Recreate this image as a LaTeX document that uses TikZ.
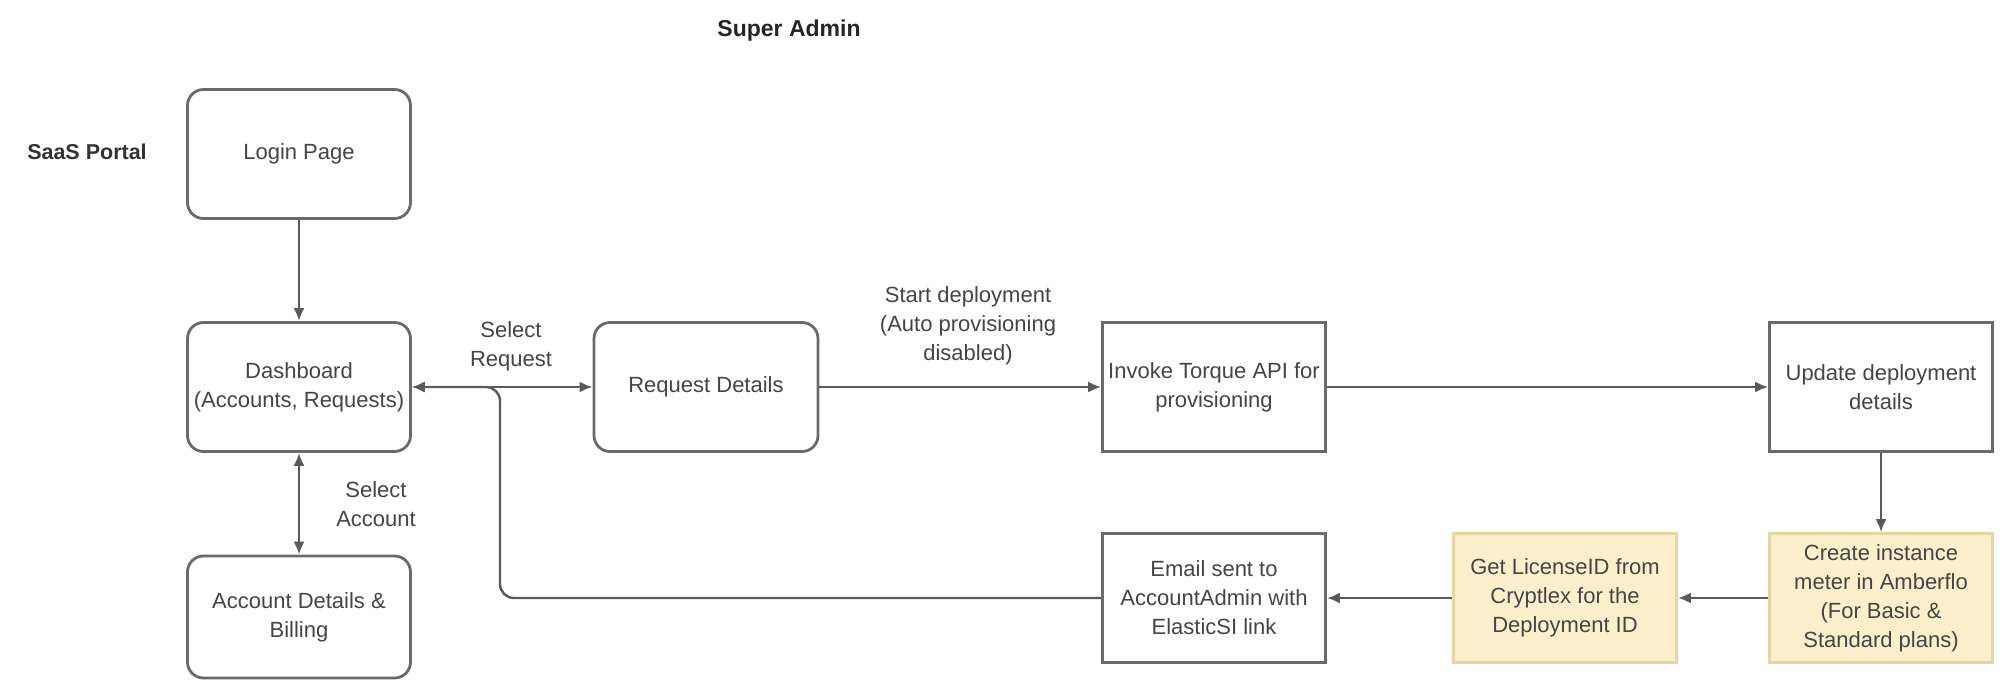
\documentclass[tikz,border=0pt]{standalone}
\usepackage{fontspec}
\setmainfont{Liberation Sans}
\usetikzlibrary{arrows.meta}
\definecolor{boxline}{HTML}{6A6A6A}
\definecolor{conn}{HTML}{5A5A5A}
\definecolor{txt}{HTML}{454545}
\definecolor{yelfill}{HTML}{FCF0CC}
\definecolor{yelline}{HTML}{E6D6A6}
\tikzset{
  basebox/.style={draw=boxline, line width=2.8pt, minimum width=223pt, minimum height=129pt, inner sep=2pt, align=center, text=txt, font=\fontsize{22}{29}\selectfont},
  roundbox/.style={basebox, rounded corners=16pt},
  rectbox/.style={basebox},
  yelbox/.style={basebox, fill=yelfill, draw=yelline},
  lbl/.style={align=center, text=txt, font=\fontsize{22}{29}\selectfont, inner sep=0pt},
  conarrow/.style={draw=conn, line width=2.4pt, -{Latex[length=13pt,width=11pt]}},
  conboth/.style={draw=conn, line width=2.4pt, {Latex[length=13pt,width=11pt]}-{Latex[length=13pt,width=11pt]}}
}
\begin{document}
\begin{tikzpicture}[x=1pt,y=-1pt]
\useasboundingbox[fill=white] (0,0) rectangle (2008,680);
% titles
\node[lbl, font=\bfseries\fontsize{23}{28}\selectfont, text=black!85] (super) at (789,31) {Super Admin};
\node[lbl, font=\bfseries\fontsize{21.5}{28}\selectfont, text=black!80] (saas) at (87,152) {SaaS Portal};
% boxes
\node[roundbox] (login) at (299,154) {Login Page};
\node[roundbox] (dash) at (299,387) {Dashboard\\(Accounts, Requests)};
\node[roundbox, minimum height=122pt] (acct) at (299,617) {Account Details \&\\Billing};
\node[roundbox, minimum width=224pt] (req) at (706,387) {Request Details};
\node[rectbox] (invoke) at (1214,387) {Invoke Torque API for\\provisioning};
\node[rectbox] (update) at (1881,387) {Update deployment\\details};
\node[yelbox] (create) at (1881,598) {Create instance\\meter in Amberflo\\(For Basic \&\\Standard plans)};
\node[yelbox] (license) at (1565,598) {Get LicenseID from\\Cryptlex for the\\Deployment ID};
\node[rectbox] (email) at (1214,598) {Email sent to\\AccountAdmin with\\ElasticSI link};
% labels
\node[lbl] (selreq) at (511,346) {Select\\Request};
\node[lbl] (selacc) at (376,504) {Select\\Account};
\node[lbl] (startdep) at (968,326) {Start deployment\\(Auto provisioning\\disabled)};
% connectors
\coordinate (retb) at (500,598);
\coordinate (rett) at (500,387);
\draw[conarrow] (login) -- (dash);
\draw[conboth] (dash) -- (acct);
\draw[conboth] (dash) -- (req);
\draw[conarrow] (req) -- (invoke);
\draw[conarrow] (invoke) -- (update);
\draw[conarrow] (update) -- (create);
\draw[conarrow] (create) -- (license);
\draw[conarrow] (license) -- (email);
\draw[conarrow, rounded corners=14pt] (email.west) -- (retb) -- (rett) -- (dash.east);
\end{tikzpicture}
\end{document}
